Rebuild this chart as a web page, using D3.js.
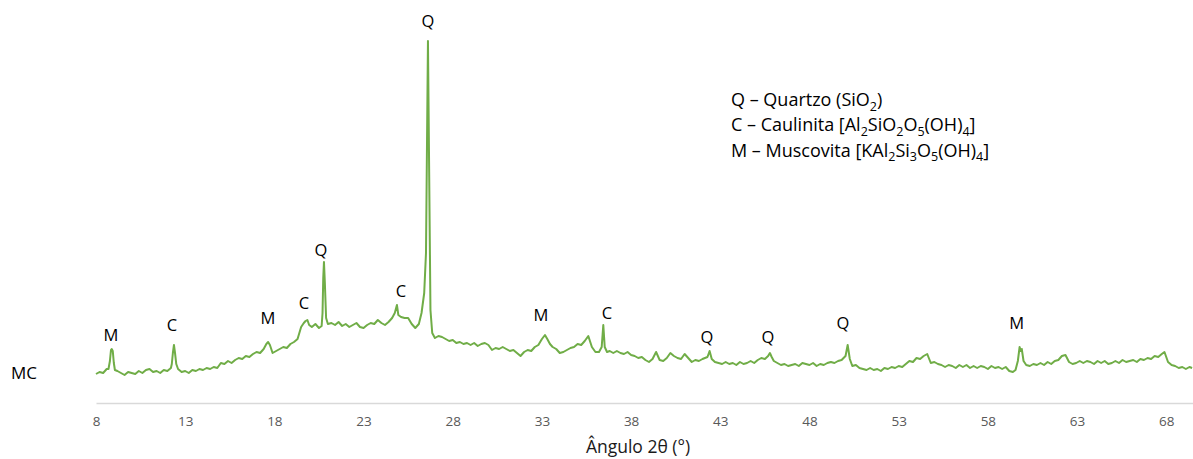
<!DOCTYPE html>
<html lang="pt">

<head>
	<meta charset="UTF-8">
	<title>Difratograma MC</title>
	<script src="https://d3js.org/d3.v7.min.js"></script>
	<style>
		body {
			margin: 0;
			background: #fff;
		}

		text {
			font-family: "Open Sans", sans-serif;
		}

		.tick text {
			fill: #595959;
			font-size: 13.5px;
		}
	</style>
</head>

<body>
	<div id="chart"></div>
</body>

<script>

	// difratograma da amostra MC: [ângulo 2θ, intensidade]
	var xrdScan = [
		[8.0, 290], [8.2, 310], [8.4, 300], [8.6, 340], [8.7, 340], [8.78, 420], [8.84, 530], [8.88, 540],
		[8.94, 520], [9.0, 400], [9.06, 330], [9.2, 320], [9.4, 300], [9.6, 280], [9.8, 310], [10.0, 300],
		[10.2, 290], [10.4, 320], [10.6, 300], [10.8, 330], [11.0, 340], [11.2, 310], [11.4, 320], [11.6, 300],
		[11.8, 330], [12.0, 320], [12.2, 350], [12.25, 390], [12.31, 500], [12.37, 580], [12.43, 500], [12.5, 390],
		[12.6, 340], [12.8, 310], [13.0, 320], [13.2, 300], [13.4, 330], [13.6, 320], [13.8, 340], [14.0, 330],
		[14.2, 350], [14.4, 340], [14.6, 360], [14.8, 350], [15.0, 400], [15.2, 390], [15.4, 420], [15.6, 400],
		[15.8, 430], [16.0, 450], [16.2, 440], [16.4, 470], [16.6, 460], [16.8, 490], [17.0, 510], [17.2, 500],
		[17.4, 540], [17.55, 590], [17.65, 610], [17.75, 580], [17.9, 500], [18.1, 520], [18.3, 540], [18.5, 560],
		[18.7, 550], [18.9, 590], [19.1, 610], [19.3, 640], [19.5, 760], [19.65, 800], [19.75, 820], [19.85, 830],
		[19.95, 780], [20.1, 760], [20.3, 790], [20.5, 750], [20.65, 770], [20.7, 900], [20.74, 1250], [20.78, 1410],
		[20.83, 1200], [20.9, 850], [21.0, 790], [21.2, 800], [21.4, 780], [21.6, 810], [21.8, 770], [22.0, 790],
		[22.2, 760], [22.4, 780], [22.6, 800], [22.8, 760], [23.0, 750], [23.2, 780], [23.4, 800], [23.6, 790],
		[23.8, 830], [24.0, 800], [24.2, 780], [24.4, 810], [24.6, 850], [24.75, 900], [24.87, 980], [24.95, 880],
		[25.1, 860], [25.3, 850], [25.5, 850], [25.7, 790], [25.9, 750], [26.1, 790], [26.25, 900], [26.4, 1100],
		[26.5, 1500], [26.61, 3620], [26.75, 930], [26.85, 700], [27.0, 650], [27.2, 670], [27.4, 660], [27.6, 640],
		[27.8, 620], [28.0, 630], [28.2, 600], [28.4, 610], [28.6, 590], [28.8, 600], [29.0, 580], [29.2, 600],
		[29.4, 570], [29.6, 590], [29.8, 600], [30.0, 580], [30.2, 530], [30.4, 550], [30.6, 540], [30.8, 560],
		[31.0, 540], [31.2, 520], [31.4, 530], [31.6, 500], [31.8, 470], [32.0, 510], [32.2, 530], [32.4, 520],
		[32.6, 560], [32.8, 580], [33.0, 640], [33.17, 680], [33.3, 640], [33.45, 590], [33.6, 560], [33.8, 540],
		[34.0, 500], [34.2, 510], [34.4, 530], [34.6, 550], [34.8, 560], [35.0, 590], [35.2, 580], [35.4, 620],
		[35.6, 670], [35.8, 560], [36.0, 510], [36.2, 510], [36.35, 560], [36.44, 780], [36.52, 560], [36.65, 510],
		[36.8, 520], [37.0, 500], [37.2, 520], [37.4, 500], [37.6, 490], [37.8, 510], [38.0, 480], [38.2, 470],
		[38.4, 450], [38.6, 460], [38.8, 430], [39.0, 410], [39.2, 440], [39.4, 510], [39.6, 430], [39.8, 420],
		[40.0, 450], [40.2, 500], [40.4, 470], [40.6, 450], [40.8, 440], [41.0, 490], [41.2, 450], [41.4, 410],
		[41.6, 430], [41.8, 420], [42.0, 440], [42.28, 460], [42.4, 520], [42.52, 440], [42.7, 410], [42.9, 400],
		[43.1, 390], [43.3, 410], [43.5, 390], [43.7, 400], [43.9, 380], [44.1, 410], [44.3, 390], [44.5, 400],
		[44.7, 420], [44.9, 400], [45.1, 430], [45.3, 450], [45.5, 440], [45.68, 470], [45.78, 500], [45.88, 460],
		[46.0, 420], [46.2, 400], [46.4, 380], [46.6, 390], [46.8, 370], [47.0, 380], [47.2, 390], [47.4, 370],
		[47.6, 400], [47.8, 390], [48.0, 380], [48.2, 400], [48.4, 370], [48.6, 390], [48.8, 380], [49.0, 400],
		[49.2, 410], [49.4, 400], [49.6, 420], [49.8, 430], [50.02, 470], [50.14, 580], [50.26, 440], [50.4, 370],
		[50.6, 380], [50.8, 350], [51.0, 340], [51.2, 330], [51.4, 350], [51.6, 330], [51.8, 340], [52.0, 320],
		[52.2, 350], [52.4, 340], [52.6, 360], [52.8, 350], [53.0, 370], [53.2, 360], [53.4, 390], [53.6, 420],
		[53.8, 410], [54.0, 450], [54.2, 440], [54.4, 470], [54.6, 490], [54.8, 400], [55.0, 410], [55.2, 390],
		[55.4, 380], [55.6, 360], [55.8, 380], [56.0, 370], [56.2, 350], [56.4, 380], [56.6, 360], [56.8, 380],
		[57.0, 350], [57.2, 370], [57.4, 350], [57.6, 370], [57.8, 360], [58.0, 340], [58.2, 370], [58.4, 350],
		[58.6, 360], [58.8, 340], [59.0, 360], [59.2, 320], [59.4, 310], [59.55, 330], [59.68, 420], [59.78, 560],
		[59.84, 520], [59.9, 540], [60.0, 420], [60.15, 380], [60.35, 370], [60.55, 390], [60.75, 380], [60.95, 400],
		[61.15, 380], [61.35, 410], [61.55, 390], [61.75, 420], [61.95, 430], [62.15, 470], [62.35, 480], [62.55, 410],
		[62.75, 390], [62.95, 400], [63.15, 420], [63.35, 400], [63.55, 420], [63.75, 410], [63.95, 390], [64.15, 420],
		[64.35, 400], [64.55, 420], [64.75, 390], [64.95, 400], [65.15, 420], [65.35, 400], [65.55, 430], [65.75, 410],
		[65.95, 420], [66.15, 430], [66.35, 410], [66.55, 440], [66.75, 430], [66.95, 450], [67.15, 440], [67.35, 470],
		[67.55, 460], [67.75, 490], [67.9, 510], [68.1, 410], [68.3, 380], [68.5, 370], [68.7, 350], [68.9, 360],
		[69.1, 340], [69.3, 360], [69.45, 350]
	];

	var xTicks = [8, 13, 18, 23, 28, 33, 38, 43, 48, 53, 58, 63, 68];

	// picos identificados
	var peakPhase = ["M", "C", "M", "C", "Q", "C", "Q", "M", "C", "Q", "Q", "Q", "M"];
	var peakAngle = [8.84, 12.26, 17.64, 19.66, 20.61, 25.1, 26.61, 32.94, 36.65, 42.25, 45.67, 49.87, 59.62];
	var peakLabelAt = [680, 780, 850, 1000, 1530, 1120, 3815, 880, 900, 660, 660, 800, 800];

	// legenda: [texto, subscrito?]
	var legendQ = [["Q \u2013 Quartzo (SiO", 0], ["2", 1], [")", 0]];
	var legendC = [["C \u2013 Caulinita [Al", 0], ["2", 1], ["SiO", 0], ["2", 1], ["O", 0], ["5", 1], ["(OH)", 0], ["4", 1], ["]", 0]];
	var legendM = [["M \u2013 Muscovita [KAl", 0], ["2", 1], ["Si", 0], ["3", 1], ["O", 0], ["5", 1], ["(OH)", 0], ["4", 1], ["]", 0]];

	var sampleName = "MC";
	var xTitle = "\u00c2ngulo 2\u03b8 (\u00b0)";

	var w = 1193;
	var h = 459;

	var svg = d3.select("#chart").append("svg")
		.attr("width", w)
		.attr("height", h);

	var x = d3.scaleLinear()
		.domain([8, 69.5])
		.range([96, 1193]);

	var y = d3.scaleLinear()
		.domain([0, 4000])
		.range([403, 3]);

	// eixo x
	var gx = svg.append("g")
		.attr("transform", "translate(0,403)")
		.call(d3.axisBottom(x).tickValues(xTicks).tickSize(0).tickPadding(13).tickFormat(d3.format("d")));
	gx.select(".domain")
		.attr("stroke", "#d9d9d9")
		.attr("stroke-width", 1.5);

	svg.append("text")
		.attr("x", 638)
		.attr("y", 453)
		.attr("text-anchor", "middle")
		.attr("font-size", "17.5px")
		.attr("fill", "#1a1a1a")
		.text(xTitle);

	// curva
	var line = d3.line()
		.x(function (d) { return x(d[0]); })
		.y(function (d) { return y(d[1]); });

	svg.append("path")
		.datum(xrdScan)
		.attr("fill", "none")
		.attr("stroke", "#70ad47")
		.attr("stroke-width", 2)
		.attr("stroke-linejoin", "round")
		.attr("d", line);

	// rótulos dos picos
	svg.selectAll(".peak")
		.data(peakPhase)
		.enter()
		.append("text")
		.attr("class", "peak")
		.attr("x", function (d, i) { return x(peakAngle[i]); })
		.attr("y", function (d, i) { return y(peakLabelAt[i]); })
		.attr("dy", "0.36em")
		.attr("text-anchor", "middle")
		.attr("font-size", "16.5px")
		.attr("fill", "#000")
		.text(function (d) { return d; });

	svg.append("text")
		.attr("x", 11)
		.attr("y", 379)
		.attr("font-size", "17px")
		.attr("fill", "#000")
		.text(sampleName);

	// legenda
	var legend = [legendQ, legendC, legendM];
	legend.forEach(function (row, i) {
		var t = svg.append("text")
			.attr("x", 731)
			.attr("y", 106 + i * 25.3)
			.attr("font-size", "18px")
			.attr("fill", "#000");
		var wasSub = false;
		row.forEach(function (s) {
			var shift = 0;
			if (s[1] && !wasSub) shift = 4.5;
			if (!s[1] && wasSub) shift = -4.5;
			t.append("tspan")
				.attr("font-size", s[1] ? "12.5px" : "18px")
				.attr("dy", shift)
				.text(s[0]);
			wasSub = !!s[1];
		});
	});

</script>

</html>
